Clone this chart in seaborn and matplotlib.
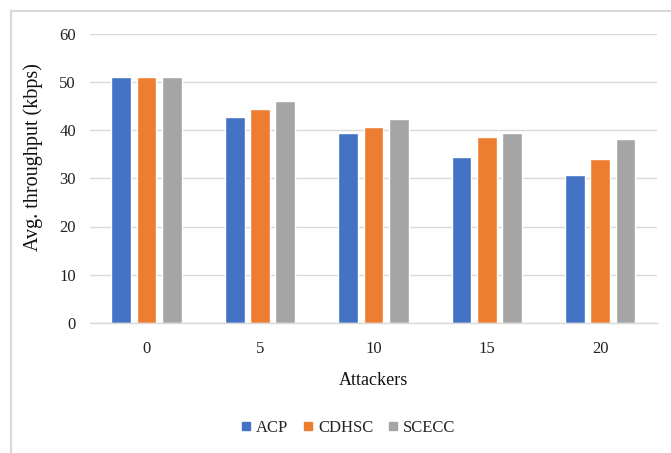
import matplotlib
matplotlib.use("Agg")
import matplotlib.pyplot as plt
from matplotlib.lines import Line2D
import seaborn as sns
import pandas as pd

attackers = ["0", "5", "10", "15", "20"]
acp = [51.0, 42.8, 39.3, 34.4, 30.7]
cdhsc = [51.0, 44.4, 40.7, 38.6, 33.9]
scecc = [51.0, 46.1, 42.3, 39.4, 38.1]
schemes = ["ACP", "CDHSC", "SCECC"]
colors = ["#4472C4", "#ED7D31", "#A5A5A5"]

df = pd.DataFrame({
    "Attackers": attackers * 3,
    "Throughput": acp + cdhsc + scecc,
    "Scheme": [s for s in schemes for _ in attackers],
})

sns.set_theme(style="white")
plt.rcParams["font.family"] = ["Liberation Serif", "DejaVu Serif"]

fig = plt.figure(figsize=(6.71, 4.53), dpi=100)
ax = fig.add_axes([0.134, 0.287, 0.845, 0.639])

sns.barplot(data=df, x="Attackers", y="Throughput", hue="Scheme",
            order=attackers, hue_order=schemes, palette=colors,
            width=0.67, gap=0.22, saturation=1, ax=ax, legend=False)

ax.set_ylim(0, 60)
ax.set_yticks(range(0, 61, 10))
ax.set_xlim(-0.5, 4.5)
ax.yaxis.grid(True, color="#D9D9D9", linewidth=1)
ax.set_axisbelow(True)
for side in ["top", "right", "left"]:
    ax.spines[side].set_visible(False)
ax.spines["bottom"].set_color("#D9D9D9")
ax.spines["bottom"].set_linewidth(1)
ax.tick_params(axis="both", length=0, labelsize=12, colors="#222222")
ax.tick_params(axis="y", pad=10)
ax.tick_params(axis="x", pad=13)
ax.set_xlabel("Attackers", fontsize=13, labelpad=11, color="#111111")
ax.set_ylabel("Avg. throughput (kbps)", fontsize=14.5, color="#111111")
ax.yaxis.set_label_coords(-0.082, 0.572)

handles = [Line2D([0], [0], marker="s", linestyle="none", markersize=5.5,
                  markerfacecolor=c, markeredgecolor=c) for c in colors]
fig.legend(handles, schemes, loc="center", bbox_to_anchor=(0.519, 0.055),
           ncol=3, frameon=False, fontsize=12, handlelength=0.6,
           handletextpad=0.3, columnspacing=0.9)

# Frame lines along the top and left edges of the figure
fig.add_artist(Line2D([11 / 671, 11 / 671], [0, 1 - 11 / 453],
                      transform=fig.transFigure, color="#D9D9D9", linewidth=1.5))
fig.add_artist(Line2D([11 / 671, 1], [1 - 11 / 453, 1 - 11 / 453],
                      transform=fig.transFigure, color="#D9D9D9", linewidth=1.5))

fig.savefig("out.png", dpi=100)
